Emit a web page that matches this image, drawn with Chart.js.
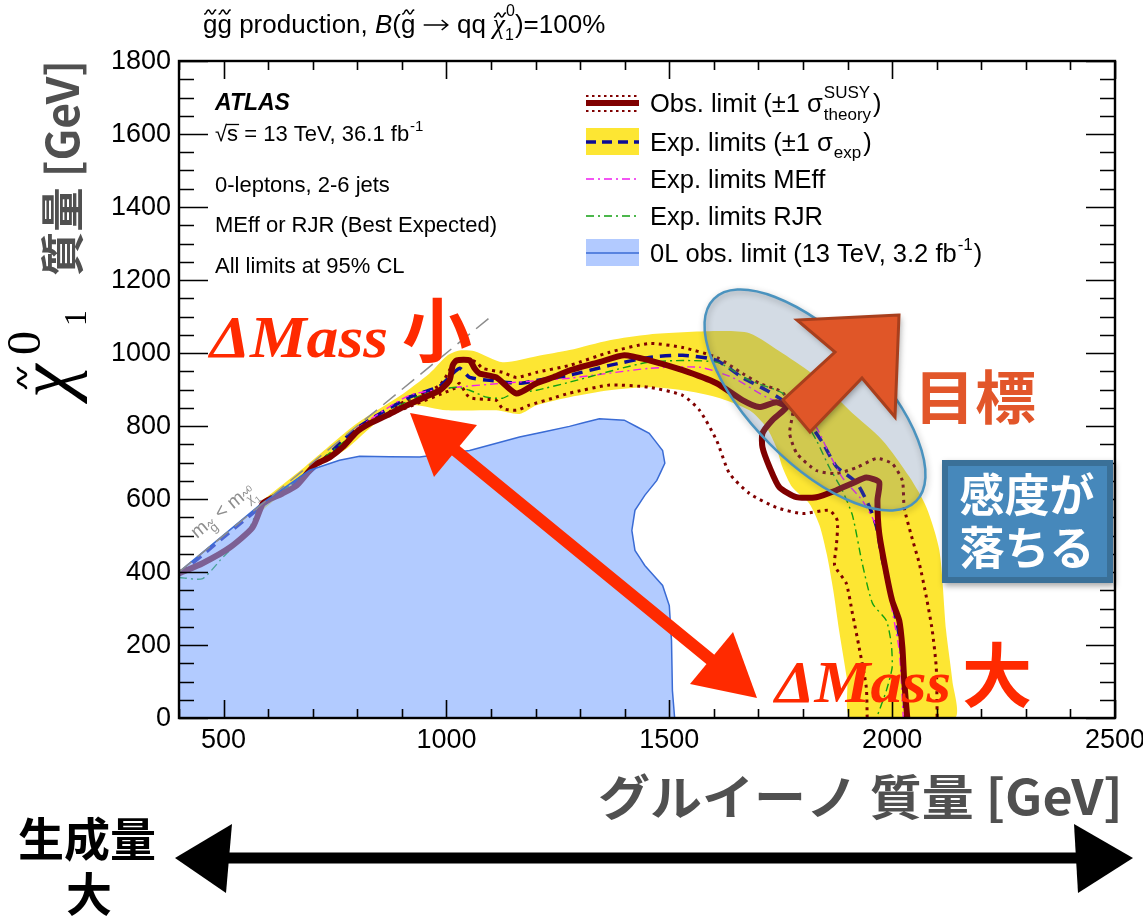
<!DOCTYPE html>
<html>
<head>
<meta charset="utf-8">
<script src="https://cdn.jsdelivr.net/npm/chart.js@4.4.1/dist/chart.umd.min.js"></script>
<style>
  html, body { margin: 0; padding: 0; background: #fff; overflow: hidden; }
  canvas { display: block; }
</style>
</head>
<body>
<canvas id="c" width="1143" height="923"></canvas>
<script>
// Axis tick labels (GeV)
const xTickLabels = [500, 1000, 1500, 2000, 2500];
const yTickLabels = [0, 200, 400, 600, 800, 1000, 1200, 1400, 1600, 1800];

// Observed limit contour: gluino mass / neutralino mass (GeV)
const obsGluino = [400,453,514,565,588,603,632,664,693,709,738,767,798,828,866,902,946,985,1007,1014,1023,1052,1063,1074,1112,1157,1202,1238,1276,1343,1399,1455,1530,1606,1664,1702,1740,1763,1731,1709,1709,1725,1747,1785,1830,1875,1911,1942,1971,1967,1971,1987,2000,2016,2023,2027,2034];
const obsNeutralino = [396,424,467,522,588,599,615,637,678,697,714,742,783,807,829,851,876,898,925,966,980,980,958,944,933,889,917,933,952,975,994,980,953,917,871,852,865,852,816,780,742,687,632,605,605,624,643,659,646,596,506,396,322,267,193,103,0];

// Observed limit, +1 sigma theory
const obsUpGluino = [798,866,895,985,1018,1036,1067,1081,1126,1157,1202,1276,1366,1455,1530,1606,1664,1702,1754,1777,1770,1786,1830,1875,1920,1965,2000,2023,2027,2043,2061,2077,2090,2099,2101];
const obsUpNeutralino = [786,832,860,912,975,986,975,958,947,933,947,966,1002,1026,1015,988,944,917,892,843,780,725,678,670,686,711,697,650,577,500,423,330,240,138,0];

// Observed limit, -1 sigma theory
const obsDownGluino = [798,866,895,1018,1029,1052,1112,1126,1157,1186,1238,1276,1366,1455,1530,1568,1606,1635,1680,1740,1799,1859,1877,1875,1871,1897,1911,1926,1942,1944];
const obsDownNeutralino = [786,832,843,903,917,878,870,848,843,857,876,890,912,906,884,843,761,670,615,577,560,569,541,473,418,369,286,193,84,0];

// Expected limit (best expected of MEff / RJR)
const expGluino = [400,588,693,798,917,985,1029,1052,1097,1164,1202,1276,1366,1455,1530,1606,1664,1718,1754,1808,1844,1875,1920,1949,1965,1976,1994,2012,2023,2029];
const expNeutralino = [393,583,673,793,879,909,958,933,925,917,925,939,966,988,994,980,933,898,871,817,754,689,645,579,524,447,350,254,158,0];

// Expected limit band: upper edge and lower edge
const bandUpGluino = [588,682,798,895,962,1002,1029,1063,1126,1202,1276,1366,1455,1606,1680,1754,1830,1904,1978,2039,2077,2106,2121,2135,2140];
const bandUpNeutralino = [597,688,806,882,944,993,1007,1005,975,991,1008,1035,1051,1060,1054,999,934,843,761,660,577,459,240,103,0];
const bandDownGluino = [1908,1899,1881,1868,1854,1837,1814,1776,1754,1740,1718,1680,1606,1530,1455,1366,1276,1202,1164,1112,1000,917,850,772,682,588];
const bandDownNeutralino = [0,103,240,349,445,528,588,632,687,742,796,843,879,898,906,898,879,857,833,843,843,857,816,734,666,570];

// Expected limits of the two analyses
const meffGluino = [798,917,1023,1126,1276,1455,1568,1642,1718,1792,1830,1859,1888,1933,1965,1983,2000,2016,2025];
const meffNeutralino = [793,884,906,917,931,958,961,933,879,843,796,724,659,596,524,404,295,185,0];
const rjrGluino = [400,453,498,552,581,648,798,917,978,1023,1052,1090,1126,1149,1202,1276,1455,1606,1680,1754,1799,1830,1859,1888,1911,1933,1956,1987,1998,2000,1987,1965];
const rjrNeutralino = [385,382,440,506,577,637,783,871,898,906,898,879,876,889,898,920,975,975,925,890,824,761,687,624,555,423,314,267,204,138,75,0];

// Earlier 0-lepton observed limit (13 TeV, 3.2 fb-1), closed region
const prevGluino = [400,400,581,693,760,805,940,1052,1164,1276,1343,1399,1455,1485,1490,1472,1445,1423,1416,1423,1445,1485,1500,1505,1507,1512];
const prevNeutralino = [0,400,583,679,706,717,715,733,770,799,820,816,780,733,698,651,610,569,514,459,418,363,308,212,75,0];

// Kinematic boundary m(gluino) = m(neutralino)
const diagGluino = [400, 1100];
const diagNeutralino = [400, 1100];

const pts = (gx, gy) => gx.map((v, i) => ({ x: v, y: gy[i] }));

const SANS = '"Liberation Sans", Arial, Helvetica, sans-serif';
const SERIF = '"Liberation Serif", "Times New Roman", serif';
const JP = '"Noto Sans CJK JP", "Noto Sans", sans-serif';

const C_OBS = '#800000';
const C_YEL = '#fde633';
const C_EXP = '#0c0c96';
const C_MEFF = '#f01cf0';
const C_RJR = '#12a012';
const C_PREV_FILL = 'rgba(122,166,255,0.58)';
const C_PREV_LINE = '#3a6bd4';
const C_RED = '#ff2a00';

// ---------- drawing helpers ----------
function put(ctx, s, x, y, font, color) {
  ctx.font = font;
  ctx.fillStyle = color || '#000';
  ctx.textAlign = 'left';
  ctx.textBaseline = 'alphabetic';
  ctx.fillText(s, x, y);
  return ctx.measureText(s).width;
}
function fitText(ctx, s, x, y, w) {
  ctx.textAlign = 'left';
  ctx.textBaseline = 'alphabetic';
  const m = ctx.measureText(s).width;
  ctx.save();
  ctx.translate(x, y);
  ctx.scale(w / m, 1);
  ctx.fillText(s, 0, 0);
  ctx.restore();
}
function tilde(ctx, cx, cy, w, h, lw, color) {
  ctx.save();
  ctx.beginPath();
  for (let i = 0; i <= 20; i++) {
    const t = i / 20;
    const px = cx - w / 2 + t * w;
    const py = cy + (h / 2) * Math.cos(3 * Math.PI * t);
    if (i === 0) ctx.moveTo(px, py); else ctx.lineTo(px, py);
  }
  ctx.lineWidth = lw;
  ctx.strokeStyle = color || '#000';
  ctx.lineCap = 'round';
  ctx.stroke();
  ctx.restore();
}
function poly(ctx, p) {
  ctx.beginPath();
  ctx.moveTo(p[0][0], p[0][1]);
  for (let i = 1; i < p.length; i++) ctx.lineTo(p[i][0], p[i][1]);
  ctx.closePath();
}

// ---------- frame, ticks and tick labels ----------
function drawAxes(chart) {
  const { ctx, chartArea: a, scales: { x, y } } = chart;
  ctx.save();
  ctx.strokeStyle = '#000';
  ctx.lineWidth = 1.6;
  ctx.beginPath();
  for (let v = x.min; v <= x.max; v += 100) {
    const p = Math.round(x.getPixelForValue(v)) + 0.5;
    const L = v % 500 === 0 ? 18 : 9;
    ctx.moveTo(p, a.bottom); ctx.lineTo(p, a.bottom - L);
    ctx.moveTo(p, a.top); ctx.lineTo(p, a.top + L);
  }
  for (let v = y.min; v <= y.max; v += 50) {
    const p = Math.round(y.getPixelForValue(v)) + 0.5;
    const L = v % 200 === 0 ? 29 : 15;
    ctx.moveTo(a.left, p); ctx.lineTo(a.left + L, p);
    ctx.moveTo(a.right, p); ctx.lineTo(a.right - L, p);
  }
  ctx.stroke();
  ctx.lineWidth = 2.4;
  ctx.strokeRect(a.left, a.top, a.right - a.left, a.bottom - a.top);

  ctx.fillStyle = '#000';
  ctx.font = '27px ' + SANS;
  ctx.textAlign = 'center';
  ctx.textBaseline = 'alphabetic';
  xTickLabels.forEach(v => ctx.fillText(String(v), x.getPixelForValue(v), a.bottom + 30));
  ctx.textAlign = 'right';
  ctx.textBaseline = 'middle';
  yTickLabels.forEach(v => ctx.fillText(String(v), a.left - 8, y.getPixelForValue(v) + 1));
  ctx.restore();
}

// ---------- plot title, ATLAS block, legend ----------
function drawHeader(chart) {
  const { ctx } = chart;
  ctx.save();
  const f = '26px ' + SANS;
  let x = 203; const y = 33;
  let w = put(ctx, 'g', x, y, f); tilde(ctx, x + w / 2, y - 21, 11, 4, 1.5); x += w;
  w = put(ctx, 'g', x, y, f); tilde(ctx, x + w / 2, y - 21, 11, 4, 1.5); x += w;
  x += put(ctx, ' production, ', x, y, f);
  x += put(ctx, 'B', x, y, 'italic 26px ' + SANS);
  x += put(ctx, '(', x, y, f);
  w = put(ctx, 'g', x, y, f); tilde(ctx, x + w / 2, y - 21, 11, 4, 1.5); x += w;
  x += put(ctx, ' ', x, y, f);
  // arrow drawn as a path so it keeps the text weight
  ctx.save();
  ctx.strokeStyle = '#000'; ctx.lineWidth = 1.6;
  ctx.beginPath(); ctx.moveTo(x + 1, y - 8); ctx.lineTo(x + 25, y - 8);
  ctx.moveTo(x + 19, y - 13); ctx.lineTo(x + 25, y - 8); ctx.lineTo(x + 19, y - 3);
  ctx.stroke(); ctx.restore();
  x += 27;
  x += put(ctx, ' qq ', x, y, f);
  w = put(ctx, '\u03c7', x, y, 'italic 27px ' + SERIF); tilde(ctx, x + w / 2 + 1, y - 18, 11, 4, 1.5);
  put(ctx, '0', x + w + 1, y - 17, '16px ' + SANS);
  put(ctx, '1', x + w, y + 7, '16px ' + SANS);
  x += w + 10;
  put(ctx, ')=100%', x, y, f);

  // experiment block
  const fs = '22px ' + SANS;
  put(ctx, 'ATLAS', 215, 110, 'italic bold 23px ' + SANS);
  x = 215;
  w = put(ctx, '\u221a', x, 141, fs);
  const sw = put(ctx, 's', x + w, 141, fs);
  ctx.beginPath(); ctx.moveTo(x + w - 1, 124.5); ctx.lineTo(x + w + sw + 1, 124.5);
  ctx.lineWidth = 1.3; ctx.strokeStyle = '#000'; ctx.stroke();
  x += w + sw;
  x += put(ctx, ' = 13 TeV, 36.1 fb', x, 141, fs);
  put(ctx, '-1', x + 1, 131, '15px ' + SANS);
  put(ctx, '0-leptons, 2-6 jets', 215, 192, fs);
  put(ctx, 'MEff or RJR (Best Expected)', 215, 232, fs);
  put(ctx, 'All limits at 95% CL', 215, 273, fs);

  // legend
  const lf = '25.5px ' + SANS, sf = '17px ' + SANS;
  const lx0 = 586, lx1 = 639, tx = 650;
  const rows = [103, 142, 179, 216, 253];
  ctx.lineCap = 'butt';
  // observed
  ctx.strokeStyle = C_OBS; ctx.lineWidth = 6; ctx.setLineDash([]);
  ctx.beginPath(); ctx.moveTo(lx0, rows[0]); ctx.lineTo(lx1, rows[0]); ctx.stroke();
  ctx.lineWidth = 2.2; ctx.setLineDash([2.5, 3.5]);
  ctx.beginPath(); ctx.moveTo(lx0, rows[0] - 7); ctx.lineTo(lx1, rows[0] - 7);
  ctx.moveTo(lx0, rows[0] + 8); ctx.lineTo(lx1, rows[0] + 8); ctx.stroke();
  ctx.setLineDash([]);
  // expected band
  ctx.fillStyle = C_YEL; ctx.fillRect(lx0, rows[1] - 14, lx1 - lx0, 27);
  ctx.strokeStyle = C_EXP; ctx.lineWidth = 3.5; ctx.setLineDash([10, 6]);
  ctx.beginPath(); ctx.moveTo(lx0, rows[1]); ctx.lineTo(lx1, rows[1]); ctx.stroke();
  // MEff, RJR
  ctx.lineWidth = 1.4; ctx.setLineDash([8, 4, 2, 4]);
  ctx.strokeStyle = C_MEFF; ctx.beginPath(); ctx.moveTo(lx0, rows[2]); ctx.lineTo(lx1, rows[2]); ctx.stroke();
  ctx.strokeStyle = C_RJR; ctx.beginPath(); ctx.moveTo(lx0, rows[3]); ctx.lineTo(lx1, rows[3]); ctx.stroke();
  ctx.setLineDash([]);
  // previous result
  ctx.fillStyle = 'rgb(178,202,255)'; ctx.fillRect(lx0, rows[4] - 14, lx1 - lx0, 27);
  ctx.strokeStyle = C_PREV_LINE; ctx.lineWidth = 1.5;
  ctx.beginPath(); ctx.moveTo(lx0, rows[4]); ctx.lineTo(lx1, rows[4]); ctx.stroke();

  const b = 9;
  x = tx + put(ctx, 'Obs. limit (\u00b11 \u03c3', tx, rows[0] + b, lf);
  put(ctx, 'SUSY', x + 1, rows[0] - 5, sf);
  w = put(ctx, 'theory', x + 1, rows[0] + 17, sf);
  put(ctx, ')', x + w + 3, rows[0] + b, lf);
  x = tx + put(ctx, 'Exp. limits (\u00b11 \u03c3', tx, rows[1] + b, lf);
  w = put(ctx, 'exp', x + 1, rows[1] + 16, sf);
  put(ctx, ')', x + w + 3, rows[1] + b, lf);
  put(ctx, 'Exp. limits MEff', tx, rows[2] + b, lf);
  put(ctx, 'Exp. limits RJR', tx, rows[3] + b, lf);
  x = tx + put(ctx, '0L obs. limit (13 TeV, 3.2 fb', tx, rows[4] + b, lf);
  w = put(ctx, '-1', x + 1, rows[4] - 3, sf);
  put(ctx, ')', x + w + 2, rows[4] + b, lf);

  // kinematic boundary label
  ctx.save();
  ctx.translate(197, 539);
  ctx.rotate(-0.686);
  const g = '#8e8e8e';
  let u = put(ctx, 'm', 0, 0, '19px ' + SANS, g);
  w = put(ctx, 'g', u + 1, 6, '13px ' + SANS, g); tilde(ctx, u + 1 + w / 2, -4, 7, 3, 1, g);
  u += w + 2;
  u += put(ctx, ' < m', u, 0, '19px ' + SANS, g);
  w = put(ctx, '\u03c7', u + 1, 6, 'italic 14px ' + SERIF, g); tilde(ctx, u + 1 + w / 2, -5, 7, 3, 1, g);
  put(ctx, '0', u + w + 1, -3, '9px ' + SANS, g);
  put(ctx, '1', u + w + 1, 11, '9px ' + SANS, g);
  ctx.restore();
  ctx.restore();
}

// ---------- axis titles and annotations ----------
function drawAnnotations(chart) {
  const { ctx } = chart;
  ctx.save();

  // y-axis title
  ctx.save();
  ctx.rotate(-Math.PI / 2);
  put(ctx, '\u03c7', -398, 71, 'italic 76px ' + SERIF, '#000');
  put(ctx, '0', -355, 40, '48px ' + SERIF, '#000');
  put(ctx, '1', -326, 86, '32px ' + SERIF, '#000');
  tilde(ctx, -378, 22, 20, 8, 2.6, '#000');
  ctx.font = 'bold 44px ' + JP; ctx.fillStyle = '#505050';
  fitText(ctx, '質量 [GeV]', -276, 79, 216);
  ctx.restore();

  // x-axis title
  ctx.font = 'bold 48px ' + JP; ctx.fillStyle = '#505050';
  fitText(ctx, 'グルイーノ 質量 [GeV]', 598, 815, 525);

  // region of interest ellipse
  ctx.save();
  ctx.beginPath();
  ctx.ellipse(815, 400, 143, 63, Math.PI / 4, 0, Math.PI * 2);
  ctx.fillStyle = 'rgba(92,123,154,0.27)';
  ctx.fill();
  ctx.shadowColor = 'rgba(0,0,0,0.3)'; ctx.shadowBlur = 6; ctx.shadowOffsetX = 1; ctx.shadowOffsetY = 2;
  ctx.strokeStyle = '#4a93bf'; ctx.lineWidth = 2.5;
  ctx.stroke();
  ctx.restore();

  // target arrow
  ctx.save();
  poly(ctx, [[899, 315], [797, 320], [835, 352], [783, 400], [810, 432], [862, 378], [895, 417]]);
  ctx.shadowColor = 'rgba(0,0,0,0.35)'; ctx.shadowBlur = 6; ctx.shadowOffsetX = 2; ctx.shadowOffsetY = 3;
  ctx.fillStyle = '#e05628'; ctx.fill();
  ctx.shadowColor = 'transparent';
  ctx.strokeStyle = '#a83f1d'; ctx.lineWidth = 3; ctx.lineJoin = 'miter'; ctx.stroke();
  ctx.restore();

  ctx.font = 'bold 58px ' + JP; ctx.fillStyle = '#e2562a';
  fitText(ctx, '目標', 914, 419, 122);

  // sensitivity box
  ctx.save();
  ctx.shadowColor = 'rgba(0,0,0,0.35)'; ctx.shadowBlur = 6; ctx.shadowOffsetX = 2; ctx.shadowOffsetY = 3;
  ctx.fillStyle = '#3a7098'; ctx.fillRect(942, 460, 171, 123);
  ctx.restore();
  ctx.fillStyle = '#4688bb'; ctx.fillRect(948, 466, 159, 111);
  ctx.fillStyle = '#fff'; ctx.font = 'bold 45px ' + JP; ctx.textAlign = 'center';
  ctx.fillText('感度が', 1027, 512);
  ctx.fillText('落ちる', 1027, 565);
  ctx.textAlign = 'left';

  // delta-mass labels
  ctx.font = 'italic bold 60px ' + SERIF; ctx.fillStyle = C_RED;
  fitText(ctx, '\u0394Mass', 210, 357, 178);
  fitText(ctx, '\u0394Mass', 775, 702, 176);
  put(ctx, '小', 402, 357, 'bold 70px ' + JP, C_RED);
  put(ctx, '大', 962, 702, 'bold 70px ' + JP, C_RED);

  // red double arrow between the two mass-splitting regimes
  ctx.save();
  ctx.fillStyle = C_RED; ctx.strokeStyle = C_RED;
  ctx.lineWidth = 12; ctx.lineCap = 'round';
  ctx.beginPath(); ctx.moveTo(450, 446); ctx.lineTo(716, 664); ctx.stroke();
  poly(ctx, [[410, 413], [477, 425], [434, 477]]); ctx.fill();
  poly(ctx, [[757, 698], [690, 684], [733, 632]]); ctx.fill();
  ctx.restore();

  // production rate label and arrow
  ctx.font = 'bold 46px ' + JP; ctx.fillStyle = '#000'; ctx.textAlign = 'center';
  ctx.fillText('生成量', 87, 856);
  ctx.fillText('大', 89, 911);
  ctx.textAlign = 'left';
  ctx.save();
  ctx.fillStyle = '#000'; ctx.strokeStyle = '#000';
  ctx.lineWidth = 11; ctx.lineCap = 'butt';
  ctx.beginPath(); ctx.moveTo(215, 858); ctx.lineTo(1090, 858); ctx.stroke();
  poly(ctx, [[175, 858], [232, 824], [226, 893]]); ctx.fill();
  poly(ctx, [[1133, 858], [1074, 824], [1078, 893]]); ctx.fill();
  ctx.restore();

  ctx.restore();
}

const decor = {
  id: 'decor',
  beforeDraw(chart) {
    const { ctx, width, height } = chart;
    ctx.save(); ctx.fillStyle = '#fff'; ctx.fillRect(0, 0, width, height); ctx.restore();
  },
  afterDatasetsDraw(chart) {
    drawAxes(chart);
    drawHeader(chart);
  },
  afterDraw(chart) {
    drawAnnotations(chart);
  }
};

const lineDefaults = { showLine: true, pointRadius: 0, pointHoverRadius: 0, fill: false };

new Chart(document.getElementById('c'), {
  type: 'scatter',
  data: {
    datasets: [
      { ...lineDefaults, label: 'kinematic limit', data: pts(diagGluino, diagNeutralino),
        borderColor: '#8c8c8c', borderWidth: 1.5, borderDash: [16, 8] },
      { ...lineDefaults, label: '0L obs. limit (13 TeV, 3.2 fb-1)', data: pts(prevGluino, prevNeutralino),
        fill: 'shape', backgroundColor: C_PREV_FILL, borderColor: C_PREV_LINE, borderWidth: 1.5, tension: 0.001 },
      { ...lineDefaults, label: 'Obs. limit', data: pts(obsGluino, obsNeutralino),
        borderColor: C_OBS, borderWidth: 6, tension: 0.2, borderJoinStyle: 'round', borderCapStyle: 'round' },
      { ...lineDefaults, label: 'Exp. limits RJR', data: pts(rjrGluino, rjrNeutralino),
        borderColor: C_RJR, borderWidth: 1.4, borderDash: [8, 4, 2, 4], tension: 0.2 },
      { ...lineDefaults, label: 'Exp. limits MEff', data: pts(meffGluino, meffNeutralino),
        borderColor: C_MEFF, borderWidth: 1.4, borderDash: [8, 4, 2, 4], tension: 0.2 },
      { ...lineDefaults, label: 'Exp. limits', data: pts(expGluino, expNeutralino),
        borderColor: C_EXP, borderWidth: 3.5, borderDash: [11, 7], tension: 0.2 },
      { ...lineDefaults, label: 'Obs. +1 sigma', data: pts(obsUpGluino, obsUpNeutralino),
        borderColor: C_OBS, borderWidth: 3, borderDash: [3, 4.5], tension: 0.2 },
      { ...lineDefaults, label: 'Obs. -1 sigma', data: pts(obsDownGluino, obsDownNeutralino),
        borderColor: C_OBS, borderWidth: 3, borderDash: [3, 4.5], tension: 0.2 },
      { ...lineDefaults, label: 'Exp. band', data: pts(bandUpGluino.concat(bandDownGluino), bandUpNeutralino.concat(bandDownNeutralino)),
        fill: 'shape', backgroundColor: C_YEL, borderColor: C_YEL, borderWidth: 0, tension: 0.25 }
    ]
  },
  options: {
    responsive: false,
    devicePixelRatio: 1,
    animation: false,
    events: [],
    layout: { padding: { left: 179, top: 61, right: 28, bottom: 205 } },
    scales: {
      x: { type: 'linear', min: 400, max: 2500, display: false },
      y: { type: 'linear', min: 0, max: 1800, display: false }
    },
    plugins: { legend: { display: false }, tooltip: { enabled: false } }
  },
  plugins: [decor]
});
</script>
</body>
</html>
